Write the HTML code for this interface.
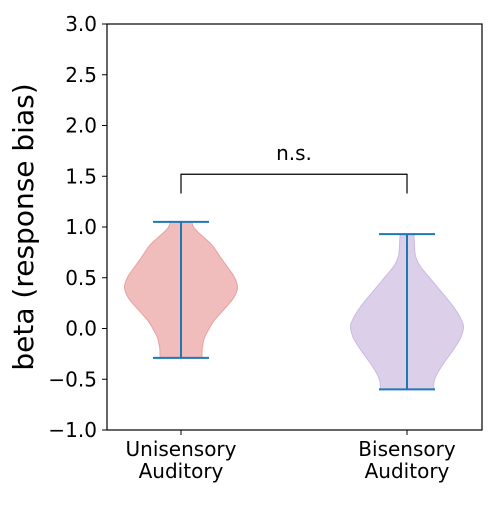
<!DOCTYPE html>
<html><head><meta charset="utf-8"><style>
html,body{margin:0;padding:0;background:#fff;}
svg text{font-family:"DejaVu Sans","Liberation Sans",sans-serif;fill:#000;}
</style></head><body>
<svg id="chart" width="500" height="500" viewBox="0 0 500 500">
<g id="violins"></g>
<g id="axes"></g>
</svg>
<script>
const categories = ["Unisensory\nAuditory", "Bisensory\nAuditory"];
const yTicks = [-1.0, -0.5, 0.0, 0.5, 1.0, 1.5, 2.0, 2.5, 3.0];
const profL = [[1.05,0.19],[1.0,0.22],[0.95,0.3],[0.9,0.4],[0.85,0.5],[0.8,0.58],[0.7,0.7],[0.6,0.83],[0.5,0.95],[0.4,1.0],[0.3,0.93],[0.2,0.78],[0.1,0.62],[0.05,0.55],[0.0,0.5],[-0.05,0.45],[-0.1,0.41],[-0.15,0.39],[-0.2,0.375],[-0.29,0.37]];
const profR = [[0.93,0.12],[0.85,0.13],[0.75,0.14],[0.68,0.17],[0.6,0.25],[0.5,0.4],[0.4,0.55],[0.3,0.7],[0.2,0.84],[0.1,0.95],[0.02,1.0],[-0.08,0.96],[-0.15,0.89],[-0.25,0.77],[-0.35,0.64],[-0.45,0.53],[-0.52,0.48],[-0.6,0.47]];
const minsMaxs = [[-0.29,1.05],[-0.6,0.93]];
const bracketY = [1.52, 1.33];
const NS = "http://www.w3.org/2000/svg";
const L=107,R=482,T=24,B=430;
const y = v => B - (v - (-1)) / 4 * (B - T);
const xc = i => 181 + i * 226;
const HW = 56.5;
const gV = document.getElementById('violins');
const gA = document.getElementById('axes');
function mk(tag, attrs, parent){const e=document.createElementNS(NS,tag);for(const k in attrs)e.setAttribute(k,attrs[k]);parent.appendChild(e);return e;}
function smooth(pts){let d=`M${pts[0][0]},${pts[0][1]}`;for(let i=0;i<pts.length-1;i++){const p0=pts[Math.max(0,i-1)],p1=pts[i],p2=pts[i+1],p3=pts[Math.min(pts.length-1,i+2)];const c1=[p1[0]+(p2[0]-p0[0])/6,p1[1]+(p2[1]-p0[1])/6];const c2=[p2[0]-(p3[0]-p1[0])/6,p2[1]-(p3[1]-p1[1])/6];d+=` C${c1[0]},${c1[1]} ${c2[0]},${c2[1]} ${p2[0]},${p2[1]}`;}return d;}
const fills=[["#f0bcbc","#e8a0a0"],["#dccfe9","#cbb9e2"]];
[profL,profR].forEach((prof,i)=>{
  const right=prof.map(p=>[xc(i)+p[1]*HW,y(p[0])]);
  const left=prof.map(p=>[xc(i)-p[1]*HW,y(p[0])]).reverse();
  let d=smooth(right)+` L${left[0][0]},${left[0][1]}`+smooth(left).replace(/^M[^C]*/,' ')+' Z';
  const p=mk('path',{d:d,fill:fills[i][0],stroke:fills[i][1],'stroke-width':1},gV);
  
  
  const [mn,mx]=minsMaxs[i];
  const w=mk('g',{stroke:'#1f77b4','stroke-width':2},gV);
  
  
  mk('line',{x1:xc(i),x2:xc(i),y1:y(mn),y2:y(mx)},w);
  mk('line',{x1:xc(i)-28,x2:xc(i)+28,y1:y(mn),y2:y(mn)},w);
  mk('line',{x1:xc(i)-28,x2:xc(i)+28,y1:y(mx),y2:y(mx)},w);
});
const br=mk('path',{d:`M${xc(0)},${y(bracketY[1])} V${y(bracketY[0])} H${xc(1)} V${y(bracketY[1])}`,fill:'none',stroke:'#000','stroke-width':1.2},gV);


const ns=mk('text',{x:(xc(0)+xc(1))/2,y:y(bracketY[0])-14,'text-anchor':'middle','font-size':20},gV);
ns.textContent='n.s.';


const fr=mk('rect',{x:L,y:T,width:R-L,height:B-T,fill:'none',stroke:'#000','stroke-width':1.2},gA);


yTicks.forEach(v=>{
  mk('line',{x1:L-5,x2:L,y1:y(v),y2:y(v),stroke:'#000','stroke-width':1},gA);
  const t=mk('text',{x:L-10,y:y(v)+7,'text-anchor':'end','font-size':20},gA);
  t.textContent=v.toFixed(1).replace('-','\u2212');
  
  
});
categories.forEach((c,i)=>{
  mk('line',{x1:xc(i),x2:xc(i),y1:B,y2:B+5,stroke:'#000','stroke-width':1},gA);
  c.split('\n').forEach((s,j)=>{
    const t=mk('text',{x:xc(i),y:456+j*22,'text-anchor':'middle','font-size':20},gA);
    t.textContent=s;
    
    
  });
});
const yl=mk('text',{x:0,y:0,'text-anchor':'middle','font-size':28,transform:`translate(33,227) rotate(-90)`},gA);
yl.textContent='beta (response bias)';


</script>
</body></html>
